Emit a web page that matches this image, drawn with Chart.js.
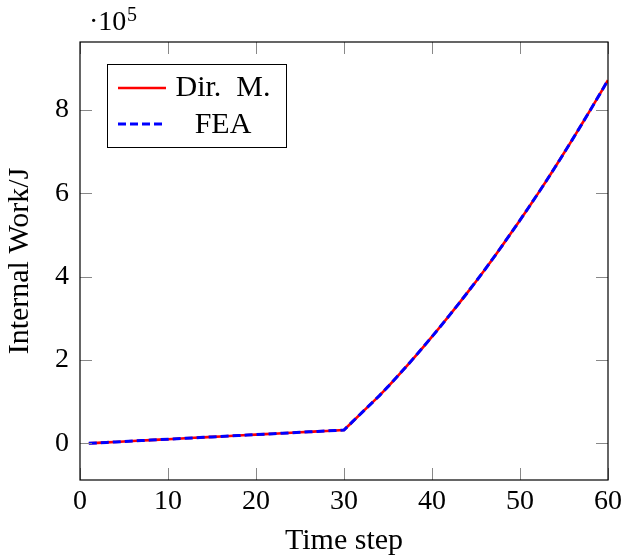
<!DOCTYPE html>
<html lang="en">
<head>
    <meta charset="UTF-8">
    <title>Internal Work vs Time step</title>
    <script src="https://cdn.jsdelivr.net/npm/chart.js"></script>
    <style>
        body { margin: 0; background: white; }
        #wrap { width: 623px; height: 559px; position: relative; }
    </style>
</head>
<body>
    <div id="wrap"><canvas id="workChart"></canvas></div>

    <script>
        // time steps 1..60
        const timeSteps = [
            1, 2, 3, 4, 5, 6, 7, 8, 9, 10, 11, 12, 13, 14, 15, 16, 17, 18, 19, 20,
            21, 22, 23, 24, 25, 26, 27, 28, 29, 30, 31, 32, 33, 34, 35, 36, 37, 38, 39, 40,
            41, 42, 43, 44, 45, 46, 47, 48, 49, 50, 51, 52, 53, 54, 55, 56, 57, 58, 59, 60
        ];

        // internal work in J
        const dirMethod = [
            0, 1100, 2200, 3300, 4400, 5500, 6600, 7700, 8800, 9900,
            11000, 12100, 13200, 14300, 15400, 16500, 17600, 18700, 19800, 20900,
            22000, 23100, 24200, 25300, 26400, 27500, 28600, 29700, 30800, 32000,
            52500, 73000, 93500, 114000, 136000, 159000, 182500, 206500, 231000, 256000,
            281500, 307500, 334000, 361000, 388500, 416500, 445500, 475000, 505000, 535500,
            566500, 598000, 630000, 663000, 696500, 730500, 765000, 800000, 835500, 871500
        ];
        const feaValues = [
            0, 1100, 2200, 3300, 4400, 5500, 6600, 7700, 8800, 9900,
            11000, 12100, 13200, 14300, 15400, 16500, 17600, 18700, 19800, 20900,
            22000, 23100, 24200, 25300, 26400, 27500, 28600, 29700, 30800, 32000,
            52500, 73000, 93500, 114000, 136000, 159000, 182500, 206500, 231000, 256000,
            281500, 307500, 334000, 361000, 388500, 416500, 445500, 475000, 505000, 535500,
            566500, 598000, 630000, 663000, 696500, 730500, 765000, 800000, 835500, 871500
        ];

        const xTicks = [0, 10, 20, 30, 40, 50, 60];
        const yTicks = [0, 200000, 400000, 600000, 800000];
        const yScaleExp = 5;

        const serif = "'Liberation Serif', 'DejaVu Serif', serif";
        const textSize = 30;
        const tickSize = 28;

        // pgfplots style frame, inward ticks, legend and the 10^5 multiplier
        const framePlugin = {
            id: 'frame',
            afterDraw(chart) {
                const ctx = chart.ctx;
                const a = chart.chartArea;
                const xs = chart.scales.x, ys = chart.scales.y;
                const tl = 12;
                ctx.save();

                ctx.strokeStyle = '#888';
                ctx.lineWidth = 1;
                ctx.beginPath();
                xTicks.forEach(v => {
                    const px = Math.round(xs.getPixelForValue(v)) + 0.5;
                    ctx.moveTo(px, a.bottom); ctx.lineTo(px, a.bottom - tl);
                    ctx.moveTo(px, a.top); ctx.lineTo(px, a.top + tl);
                });
                yTicks.forEach(v => {
                    const py = Math.round(ys.getPixelForValue(v)) + 0.5;
                    ctx.moveTo(a.left, py); ctx.lineTo(a.left + tl, py);
                    ctx.moveTo(a.right, py); ctx.lineTo(a.right - tl, py);
                });
                ctx.stroke();

                ctx.strokeStyle = '#000';
                ctx.lineWidth = 1.2;
                ctx.strokeRect(a.left, a.top, a.right - a.left, a.bottom - a.top);

                // multiplier label
                ctx.fillStyle = '#000';
                ctx.textBaseline = 'alphabetic';
                ctx.textAlign = 'left';
                ctx.font = tickSize + 'px ' + serif;
                ctx.fillText('\u00b710', 89, 30);
                ctx.font = '20px ' + serif;
                ctx.fillText(String(yScaleExp), 127, 21);

                // legend box
                const lx = 107, ly = 64, lw = 179, lh = 83;
                ctx.fillStyle = '#fff';
                ctx.fillRect(lx, ly, lw, lh);
                ctx.strokeStyle = '#000';
                ctx.lineWidth = 1;
                ctx.strokeRect(lx + 0.5, ly + 0.5, lw, lh);
                const rows = [88, 124];
                const baselines = [96, 133];
                chart.data.datasets.forEach((ds, i) => {
                    ctx.beginPath();
                    ctx.strokeStyle = ds.borderColor;
                    ctx.lineWidth = ds.borderWidth;
                    ctx.setLineDash(ds.borderDash || []);
                    ctx.moveTo(118, rows[i]);
                    ctx.lineTo(166, rows[i]);
                    ctx.stroke();
                    ctx.setLineDash([]);
                    ctx.fillStyle = '#000';
                    ctx.font = textSize + 'px ' + serif;
                    ctx.textAlign = 'center';
                    ctx.textBaseline = 'alphabetic';
                    ctx.fillText(ds.label, 223, baselines[i]);
                });
                ctx.restore();
            }
        };

        const ctx = document.getElementById('workChart').getContext('2d');
        new Chart(ctx, {
            type: 'line',
            data: {
                datasets: [{
                    label: 'Dir.  M.',
                    data: timeSteps.map((t, i) => ({ x: t, y: dirMethod[i] })),
                    borderColor: '#ff0000',
                    borderWidth: 2.6,
                    pointRadius: 0,
                    tension: 0,
                    order: 1
                }, {
                    label: 'FEA',
                    data: timeSteps.map((t, i) => ({ x: t, y: feaValues[i] })),
                    borderColor: '#0000ff',
                    borderWidth: 3,
                    borderDash: [8, 4],
                    pointRadius: 0,
                    tension: 0,
                    order: 0
                }]
            },
            options: {
                responsive: true,
                maintainAspectRatio: false,
                animation: false,
                layout: { padding: { top: 42, right: 15, left: 0, bottom: 0 } },
                plugins: {
                    legend: { display: false },
                    tooltip: { enabled: false }
                },
                scales: {
                    x: {
                        type: 'linear',
                        min: 0,
                        max: 60,
                        afterFit: s => { s.height = 79; s.paddingLeft = 0; s.paddingRight = 0; },
                        afterBuildTicks: s => { s.ticks = xTicks.map(v => ({ value: v })); },
                        grid: { display: false, drawTicks: false },
                        border: { display: false },
                        ticks: {
                            color: '#000',
                            padding: 5,
                            maxRotation: 0,
                            font: { family: serif, size: tickSize }
                        },
                        title: {
                            display: true,
                            text: 'Time step',
                            color: '#000',
                            padding: { top: 2, bottom: 0 },
                            font: { family: serif, size: textSize }
                        }
                    },
                    y: {
                        min: -88000,
                        max: 963000,
                        afterFit: s => { s.width = 80; s.paddingTop = 0; s.paddingBottom = 0; },
                        afterBuildTicks: s => { s.ticks = yTicks.map(v => ({ value: v })); },
                        grid: { display: false, drawTicks: false },
                        border: { display: false },
                        ticks: {
                            color: '#000',
                            padding: 11,
                            font: { family: serif, size: tickSize },
                            callback: v => String(v / Math.pow(10, yScaleExp))
                        },
                        title: {
                            display: true,
                            text: 'Internal Work/J',
                            color: '#000',
                            padding: { top: 2, bottom: 0 },
                            font: { family: serif, size: textSize }
                        }
                    }
                }
            },
            plugins: [framePlugin]
        });
    </script>
</body>
</html>
